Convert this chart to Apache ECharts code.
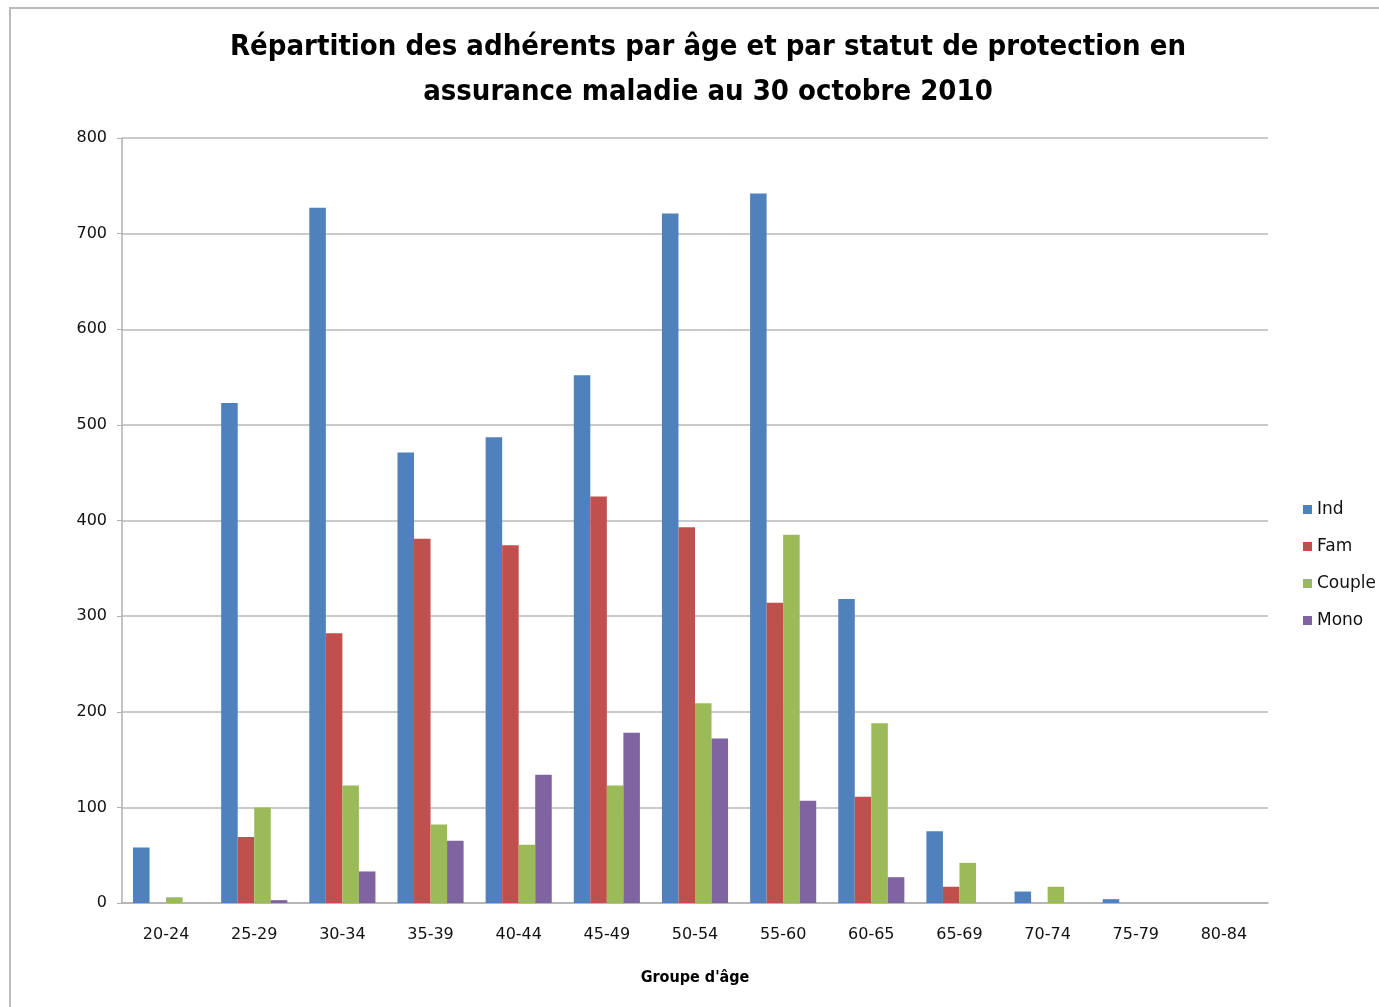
<!DOCTYPE html>
<html><head><meta charset="utf-8">
<script src="https://cdn.jsdelivr.net/npm/echarts@6/dist/echarts.min.js"></script>
<style>html,body{margin:0;padding:0;background:#fff}#c{width:1379px;height:1007px}</style>
</head><body><div id="c"></div>
<script>
const categories = ['20-24','25-29','30-34','35-39','40-44','45-49','50-54','55-60','60-65','65-69','70-74','75-79','80-84'];
const ind    = [58, 523, 727, 471, 487, 552, 721, 742, 318, 75, 12, 4, 0];
const fam    = [0, 69, 282, 381, 374, 425, 393, 314, 111, 17, 0, 0, 0];
const couple = [6, 100, 123, 82, 61, 123, 209, 385, 188, 42, 17, 0, 0];
const mono   = [0, 3, 33, 65, 134, 178, 172, 107, 27, 0, 0, 0, 0];
const seriesNames = ['Ind','Fam','Couple','Mono'];
const colors = ['#4F81BD','#C0504D','#9BBB59','#8064A2'];

const chart = echarts.init(document.getElementById('c'));
const data = [ind, fam, couple, mono];
chart.setOption({
  animation: false,
  color: colors,
  title: {
    text: 'Répartition des adhérents par âge et par statut de protection en\nassurance maladie au 30 octobre 2010',
    left: 703, top: 20, textAlign: 'center',
    textStyle: {fontFamily: 'DejaVu Sans Condensed', fontWeight: 'bold', fontSize: 29, lineHeight: 45, color: '#000'}
  },
  graphic: [{type:'rect', shape:{x:10,y:8,width:1400,height:1050}, style:{fill:'none', stroke:'#bbbbbb', lineWidth:2}}],
  legend: {
    orient: 'vertical', left: 1298, top: 496, itemWidth: 9, itemHeight: 9, itemGap: 20, itemTextGap: 7,
    icon: 'rect',
    textStyle: {fontFamily: 'DejaVu Sans', fontSize: 17, color: '#111'},
    data: seriesNames
  },
  grid: {left: 122, right: 1379-1268, top: 138, bottom: 1007-903},
  xAxis: {
    type: 'category', data: categories,
    name: "Groupe d'âge", nameLocation: 'middle', nameGap: 67,
    nameTextStyle: {fontFamily: 'DejaVu Sans Condensed', fontWeight: 'bold', fontSize: 16, color: '#000'},
    axisLine: {lineStyle: {color: '#b0b0b0', width: 1.5}},
    axisTick: {show: false},
    axisLabel: {fontFamily: 'DejaVu Sans', fontSize: 16, color: '#111', margin: 24}
  },
  yAxis: {
    type: 'value', min: 0, max: 800, interval: 100,
    axisLine: {show: true, lineStyle: {color: '#b0b0b0', width: 1.5}},
    axisTick: {show: true, length: 5, lineStyle: {color: '#b0b0b0'}},
    splitLine: {lineStyle: {color: '#b8b8b8', width: 1.5}},
    axisLabel: {fontFamily: 'DejaVu Sans', fontSize: 16, color: '#111', margin: 15}
  },
  series: seriesNames.map((n, i) => ({
    name: n, type: 'bar', data: data[i], barGap: '0%', barCategoryGap: '25%'
  }))
});
</script></body></html>
